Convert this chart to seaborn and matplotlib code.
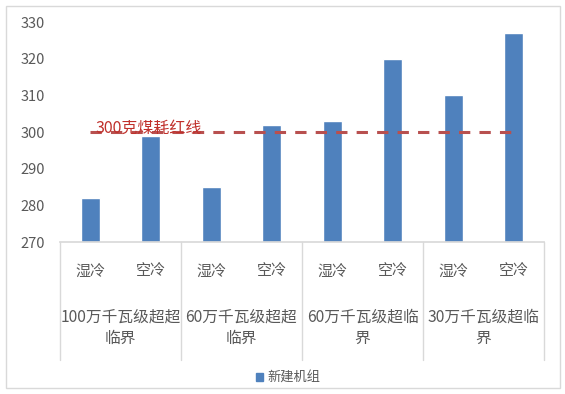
import numpy as np
import pandas as pd
import matplotlib
matplotlib.use("Agg")
import matplotlib.pyplot as plt
from matplotlib.patches import Patch, Rectangle
import seaborn as sns

# ----------------------------------------------------------
# Data
# ----------------------------------------------------------
groups = ["100万千瓦级超超\n临界", "60万千瓦级超超\n临界", "60万千瓦级超临\n界", "30万千瓦级超临\n界"]
cooling = ["湿冷", "空冷"]
coal_use = [282, 299, 285, 302, 303, 320, 310, 327]
red_line = 300
red_label = "300克煤耗红线"
series_name = "新建机组"
yticks = [270, 280, 290, 300, 310, 320, 330]

BLUE = "#4F81BD"
GRID = "#D9D9D9"
TXT = "#595959"

# ----------------------------------------------------------
# Plot
# ----------------------------------------------------------
sns.set_theme(style="white")
plt.rcParams["font.family"] = ["Noto Sans CJK SC", "DejaVu Sans"]

df = pd.DataFrame({
    "unit": [f"{g}|{c}" for g in groups for c in cooling],
    "cool": [c for g in groups for c in cooling],
    "value": coal_use,
})

fig = plt.figure(figsize=(5.65, 3.94), dpi=100)
ax = fig.add_axes([60 / 565, 1 - 242 / 394, 484 / 565, 220 / 394])

sns.barplot(data=df, x="unit", y="value", color=BLUE, width=0.31,
            saturation=1, ax=ax)
ax.set_ylim(yticks[0], yticks[-1])
ax.set_xlim(-0.5, len(df) - 0.5)
ax.set_yticks(yticks)
ax.set_xlabel(""); ax.set_ylabel("")

# red line
ax.plot([0, len(df) - 1], [red_line, red_line], color="#B8504F", lw=2.2,
        linestyle=(0, (3.7, 3.0)))
ax.text(0.08, red_line + 1.0, red_label, color="#C0302B", fontsize=11.5,
        ha="left", va="center")

# axes styling
for s in ["top", "right", "left"]:
    ax.spines[s].set_visible(False)
ax.spines["bottom"].set_color(GRID)
ax.tick_params(axis="y", length=0, pad=11, labelsize=10.5, labelcolor=TXT)
ax.tick_params(axis="x", length=0, pad=16, labelsize=10.8, labelcolor=TXT)
ax.set_xticks(range(len(df)))
ax.set_xticklabels(df["cool"])

# group labels + separators
tr = ax.get_xaxis_transform()
for i, g in enumerate(groups):
    ax.text(2 * i + 0.5, -0.39, g, transform=tr, ha="center", va="center",
            fontsize=11.3, color=TXT, linespacing=1.3)
for xb in np.arange(-0.5, len(df), 2):
    ax.plot([xb, xb], [0, -0.536], transform=tr, color=GRID, lw=1,
            clip_on=False)

# legend
handle = Patch(facecolor=BLUE, edgecolor=BLUE)
fig.legend([handle], [series_name], loc="center", bbox_to_anchor=(288 / 565, 1 - 378 / 394),
           frameon=False, fontsize=9.5, handlelength=0.6, handleheight=0.6,
           handletextpad=0.3, labelcolor=TXT)

# outer chart border
fig.patches.append(Rectangle((6 / 565, 6 / 394), 554 / 565, 382 / 394,
                             transform=fig.transFigure, fill=False,
                             edgecolor=GRID, lw=1))

fig.savefig("out.png", dpi=100)
